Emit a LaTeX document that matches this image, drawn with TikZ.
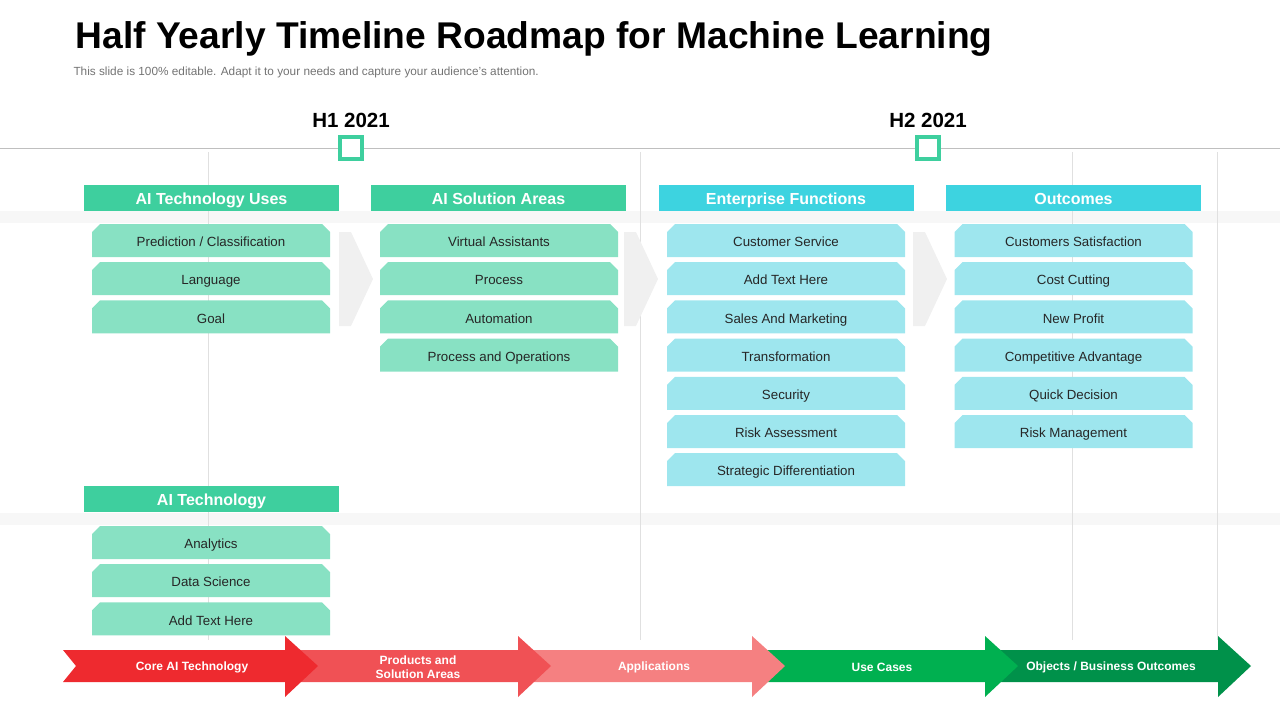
\documentclass[tikz,border=0pt]{standalone}
\usepackage{fontspec}
\setmainfont{Liberation Sans}
\usetikzlibrary{shapes.misc}
\definecolor{hgreen}{HTML}{3ECF9E}
\definecolor{igreen}{HTML}{88E1C3}
\definecolor{hcyan}{HTML}{3DD3E0}
\definecolor{icyan}{HTML}{9EE6EE}
\definecolor{rA}{HTML}{EE2A2F}
\definecolor{rB}{HTML}{F05155}
\definecolor{rC}{HTML}{F58081}
\definecolor{gA}{HTML}{00B050}
\definecolor{gB}{HTML}{00914A}
\begin{document}
\begin{tikzpicture}[x=1pt,y=-1pt,
  hdr/.style={minimum width=255pt,minimum height=26pt,inner sep=0pt,text=white,text height=16.5pt,text depth=3pt,font=\bfseries\fontsize{16}{18}\selectfont},
  itm/.style={minimum width=238pt,minimum height=33pt,inner sep=0pt,text height=15pt,text depth=2.8pt,font=\fontsize{13.3}{15}\selectfont,text=black!85,
    chamfered rectangle,chamfered rectangle corners={north west,north east},chamfered rectangle xsep=4pt,chamfered rectangle ysep=4pt},
  arr/.style={text=white,yshift=-1pt,font=\bfseries\fontsize{12}{13}\selectfont,align=center}]
\useasboundingbox (0,0) rectangle (1280,720);
% background bands and lines
\fill[black!3] (0,211) rectangle (1280,223);
\fill[black!3] (0,513) rectangle (1280,525);
\draw[black!25,line width=0.8pt] (0,148) -- (1280,148);
\foreach \x in {208,640,1072,1217} \draw[black!12] (\x,152) -- (\x,640);
% title
\node[anchor=west,font=\bfseries\fontsize{37.2}{40}\selectfont] (title) at (72,39) {Half Yearly Timeline Roadmap for Machine Learning};
\node[anchor=west,font=\fontsize{11.8}{13}\selectfont,text=black!55] (sub) at (70,72) {This slide is 100\% editable. Adapt it to your needs and capture your audience's attention.};
\node[font=\bfseries\fontsize{20.5}{24}\selectfont] (h1) at (351,120) {H1 2021};
\node[font=\bfseries\fontsize{20.5}{24}\selectfont] (h2) at (928,120) {H2 2021};
\node[draw=hgreen,line width=4pt,fill=white,minimum size=22pt,inner sep=0pt] (m1) at (351,148) {};
\node[draw=hgreen,line width=4pt,fill=white,minimum size=22pt,inner sep=0pt] (m2) at (928,148) {};
% chevrons
\foreach \x in {339,624,913} \fill[black!6] (\x,232) -- (\x+12,232) -- (\x+34,279) -- (\x+12,326) -- (\x,326) -- cycle;
% headers
\node[hdr,fill=hgreen] (c1) at (211.5,198) {AI Technology Uses};
\node[hdr,fill=hgreen] (c2) at (498.5,198) {AI Solution Areas};
\node[hdr,fill=hcyan] (c3) at (786,198) {Enterprise Functions};
\node[hdr,fill=hcyan] (c4) at (1073.5,198) {Outcomes};
\node[hdr,fill=hgreen] (c5) at (211.5,499) {AI Technology};
% items
\foreach \t [count=\i] in {Prediction / Classification,Language,Goal}
  \node[itm,fill=igreen] (a\i) at (211,240.5+38.2*\i-38.2) {\t};
\foreach \t [count=\i] in {Virtual Assistants,Process,Automation,Process and Operations}
  \node[itm,fill=igreen] (b\i) at (499,240.5+38.2*\i-38.2) {\t};
\foreach \t [count=\i] in {Customer Service,Add Text Here,Sales And Marketing,Transformation,Security,Risk Assessment,Strategic Differentiation}
  \node[itm,fill=icyan] (d\i) at (786,240.5+38.2*\i-38.2) {\t};
\foreach \t [count=\i] in {Customers Satisfaction,Cost Cutting,New Profit,Competitive  Advantage,Quick Decision,Risk Management}
  \node[itm,fill=icyan] (e\i) at (1073.5,240.5+38.2*\i-38.2) {\t};
\foreach \t [count=\i] in {Analytics,Data Science,Add Text Here}
  \node[itm,fill=igreen] (f\i) at (211,542.5+38.2*\i-38.2) {\t};
% bottom arrows (drawn right to left so heads overlap)
\foreach \c/\s [count=\i] in {gB/1001,gA/768,rC/535,rB/301,rA/68}{
  \fill[\c] (\s-5,650) -- (\s+217,650) -- (\s+217,636) -- (\s+250,666) -- (\s+217,697) -- (\s+217,682) -- (\s-5,682) -- (\s+8,666) -- cycle;}
\node[arr] (p1) at (192,666) {Core AI Technology};
\node[arr,font=\bfseries\fontsize{12}{14}\selectfont] (p2) at (418,666) {Products and\\Solution  Areas};
\node[arr] (p3) at (654,666) {Applications};
\node[arr] (p4) at (882,666) {Use Cases};
\node[arr] (p5) at (1111,666) {Objects / Business Outcomes};
\end{tikzpicture}
\end{document}
